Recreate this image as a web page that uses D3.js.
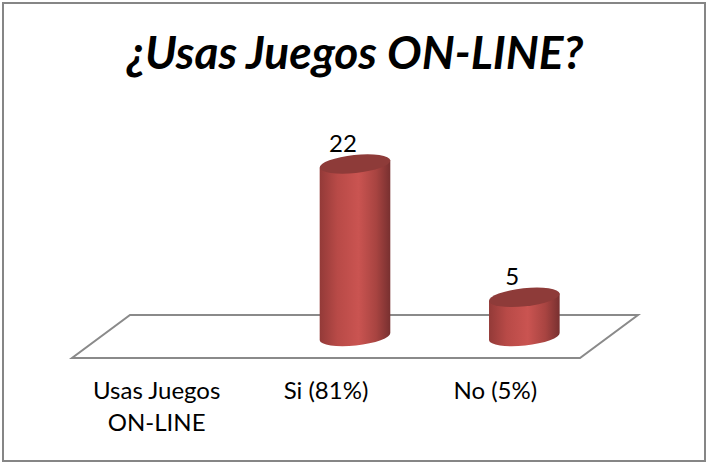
<!doctype html>
<html lang="es">
<head>
<meta charset="utf-8">
<title>¿Usas Juegos ON-LINE?</title>
<script src="https://d3js.org/d3.v7.min.js"></script>
<style>
  html, body { margin: 0; padding: 0; background: #fff; }
  svg { display: block; }
  text { font-family: Lato, "Open Sans", sans-serif; fill: #000; }
  .tick text { font-size: 24px; }
</style>
</head>
<body>
<script>
// data
var categories = ["Usas Juegos ON-LINE", "Si (81%)", "No (5%)"];
var barCategories = ["Si (81%)", "No (5%)"];
var barValues = [22, 5];
var yTicks = [0, 22];
var title = "¿Usas Juegos ON-LINE?";

var w = 709, h = 465;

var svg = d3.select("body").append("svg")
  .attr("width", w)
  .attr("height", h);

var grad = svg.append("defs").append("linearGradient")
  .attr("id", "cyl")
  .attr("x1", "0").attr("x2", "1").attr("y1", "0").attr("y2", "0");
grad.append("stop").attr("offset", "0").attr("stop-color", "#933a38");
grad.append("stop").attr("offset", "0.25").attr("stop-color", "#b84a47");
grad.append("stop").attr("offset", "0.55").attr("stop-color", "#ca5451");
grad.append("stop").attr("offset", "0.8").attr("stop-color", "#a84441");
grad.append("stop").attr("offset", "1").attr("stop-color", "#783030");

// chart frame
svg.append("rect")
  .attr("x", 3).attr("y", 3)
  .attr("width", 702).attr("height", 458)
  .attr("fill", "#fff")
  .attr("stroke", "#868686")
  .attr("stroke-width", 2);

svg.append("text")
  .attr("x", 355).attr("y", 69)
  .attr("text-anchor", "middle")
  .attr("font-size", 46)
  .attr("font-weight", "bold")
  .attr("font-style", "italic")
  .text(title);

// floor, front edge is the x axis, depth goes up and to the right
var floorY = 358, depthX = 58, depthY = 43;
var x = d3.scaleBand().domain(categories).range([72, 580]);
var y = d3.scaleLinear().domain(yTicks).range([floorY - depthY / 2, 164]);

svg.append("path")
  .attr("d", d3.line()([
    [72, floorY], [580, floorY],
    [580 + depthX, floorY - depthY], [72 + depthX, floorY - depthY]
  ]) + "Z")
  .attr("fill", "none")
  .attr("stroke", "#8a8a8a")
  .attr("stroke-width", 2);

var axis = svg.append("g")
  .attr("transform", "translate(0," + floorY + ")")
  .call(d3.axisBottom(x).tickSize(0).tickPadding(24));
axis.select(".domain").remove();

// first label goes on two lines
axis.selectAll(".tick text").each(function(d) {
  if (d !== categories[0]) return;
  var t = d3.select(this).text(null);
  t.append("tspan").attr("x", 0).attr("dy", "0.71em").text("Usas Juegos");
  t.append("tspan").attr("x", 0).attr("dy", "1.33em").text("ON-LINE");
});
axis.selectAll(".tick text").attr("fill", "#000");

// cylinders
var rx = 35.5, ry = 9, tilt = -6;
var cx = function(d) { return x(d) + x.bandwidth() / 2 + depthX / 2; };
var ex = rx * Math.cos(tilt * Math.PI / 180), ey = rx * Math.sin(tilt * Math.PI / 180);

var bars = svg.selectAll(".bar")
  .data(barValues)
  .enter().append("g")
  .attr("class", "bar");

bars.append("path")
  .attr("fill", "url(#cyl)")
  .attr("d", function(d, i) {
    var c = cx(barCategories[i]);
    return "M" + (c - ex) + "," + (y(d) - ey) +
      "L" + (c - ex) + "," + (y(0) - ey) +
      "A" + rx + "," + ry + " " + tilt + " 0 0 " + (c + ex) + "," + (y(0) + ey) +
      "L" + (c + ex) + "," + (y(d) + ey) + "Z";
  });

bars.append("ellipse")
  .attr("rx", rx).attr("ry", ry)
  .attr("fill", "#8e3b39")
  .attr("transform", function(d, i) {
    return "translate(" + cx(barCategories[i]) + "," + y(d) + ") rotate(" + tilt + ")";
  });

bars.append("text")
  .attr("x", function(d, i) { return cx(barCategories[i]) - 12; })
  .attr("y", function(d) { return y(d) - 12; })
  .attr("text-anchor", "middle")
  .attr("font-size", 24)
  .text(function(d) { return d; });
</script>
</body>
</html>
